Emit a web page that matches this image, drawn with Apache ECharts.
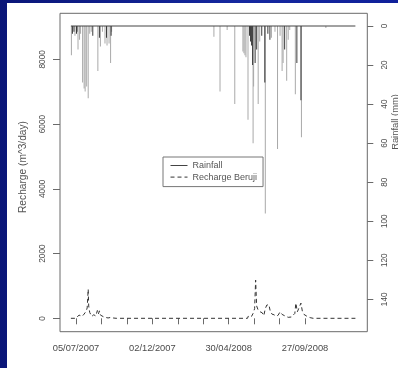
<!DOCTYPE html>
<html>
<head>
<meta charset="utf-8">
<script src="https://cdn.jsdelivr.net/npm/echarts@6/dist/echarts.min.js"></script>
<style>
html,body{margin:0;padding:0;width:398px;height:368px;overflow:hidden;background:linear-gradient(to right,#0a1678,#15289f 60%,#0f209a);}
#paper{position:absolute;left:7px;top:3px;width:391px;height:365px;background:#fff;}
#c{position:absolute;left:0;top:0;width:398px;height:368px;}
</style>
</head>
<body>
<div id="paper"></div>
<div id="c"></div>
<script>
// ---- data ----
const rainLightDates = ['2007-06-26','2007-07-03','2007-07-09','2007-07-12','2007-07-14','2007-07-18','2007-07-21','2007-07-23','2007-07-26','2007-07-29','2007-08-01','2007-08-04','2007-08-17','2007-08-22','2007-08-26','2007-08-31','2007-09-04','2007-09-08','2007-09-11','2007-09-13','2008-04-01','2008-04-13','2008-04-27','2008-05-12','2008-05-28','2008-05-30','2008-06-01','2008-06-03','2008-06-07','2008-06-17','2008-06-18','2008-06-27','2008-06-30','2008-07-11','2008-07-23','2008-07-30','2008-08-04','2008-08-09','2008-08-13','2008-08-15','2008-08-22','2008-08-25','2008-08-28','2008-09-08','2008-09-20','2008-11-07'];
const rainLightMm = [15,5,12,7,4,29,32,33.5,31,37,4,3,23,10.5,3,9,10,9,19,3,5.5,33.5,2,40,13,14,15,16,48,60,31,40,8,96,6,3,63,5,23,19,28,7,2,35,57,1];
const rainDarkDates = ['2007-06-28','2007-07-01','2007-07-06','2007-07-07','2007-08-07','2007-08-20','2007-09-03','2007-09-12','2008-06-10','2008-06-12','2008-06-14','2008-06-16','2008-06-21','2008-06-24','2008-07-04','2008-07-10','2008-07-16','2008-07-20','2008-08-18','2008-09-11','2008-09-19'];
const rainDarkMm = [4,3,4,3,5,6,6,5,5,8,10,20,19,12,5,29,4,7,12,19,38];
const rainBaseDates = ['2007-06-25','2009-01-04'];
const rainBaseMm = [0,0];
const rechargeDates = ['2007-06-25','2007-07-05','2007-07-07','2007-07-11','2007-07-14','2007-07-17','2007-07-21','2007-07-25','2007-07-27','2007-07-29','2007-07-30','2007-08-01','2007-08-03','2007-08-05','2007-08-09','2007-08-13','2007-08-16','2007-08-18','2007-08-20','2007-08-22','2007-08-25','2007-08-29','2007-09-02','2007-09-06','2007-09-12','2007-09-16','2007-09-22','2008-06-06','2008-06-08','2008-06-11','2008-06-14','2008-06-17','2008-06-20','2008-06-22','2008-06-24','2008-06-27','2008-07-01','2008-07-05','2008-07-08','2008-07-11','2008-07-14','2008-07-18','2008-07-21','2008-07-24','2008-07-28','2008-08-01','2008-08-05','2008-08-09','2008-08-13','2008-08-19','2008-08-25','2008-08-31','2008-09-03','2008-09-07','2008-09-09','2008-09-12','2008-09-15','2008-09-19','2008-09-22','2008-09-25','2008-10-01','2008-10-07','2008-10-13','2009-01-04'];
const rechargeVals = [0,0,40,100,150,60,130,220,320,900,380,180,120,60,110,70,240,130,230,100,70,40,25,10,30,10,0,0,80,120,60,150,300,1180,380,250,200,170,80,300,410,420,200,130,110,70,90,200,120,70,30,40,30,150,470,200,250,470,200,120,60,20,0,0];
const xTickDates = ['2007-07-05','2007-08-24','2007-10-13','2007-12-02','2008-01-21','2008-03-11','2008-04-30','2008-06-19','2008-08-08','2008-09-27'];
const xLabelDates = ['2007-07-05','2007-12-02','2008-04-30','2008-09-27'];
const yLeftTicks = [0,2000,4000,6000,8000];
const yRightTicks = [0,20,40,60,80,100,120,140];

// ---- helpers ----
function ts(s){const p=s.split('-').map(Number);return new Date(p[0],p[1]-1,p[2]).getTime();}
function pairs(d,v){return d.map((x,i)=>[ts(x),v[i]]);}
function fmt(t){const d=new Date(t);const z=n=>(n<10?'0':'')+n;return z(d.getDate())+'/'+z(d.getMonth()+1)+'/'+d.getFullYear();}
const DAY=86400000;
const base=ts('2007-07-05');
const FONT='Liberation Sans, Arial, sans-serif';

const chart=echarts.init(document.getElementById('c'),null,{renderer:'canvas'});
chart.setOption({
  animation:false,
  backgroundColor:'transparent',
  grid:{left:60,top:13.3,right:30.7,bottom:36.3,show:true,borderColor:'#6a6a6a',borderWidth:1,backgroundColor:'transparent'},
  legend:{
    orient:'vertical',left:163,top:157,
    padding:[4,6,5,7],itemGap:2.6,itemWidth:17,itemHeight:10,
    backgroundColor:'#fff',borderColor:'#777',borderWidth:1,borderRadius:0,
    itemStyle:{color:'rgba(0,0,0,0)',borderWidth:0,opacity:0},
    lineStyle:{width:1},
    textStyle:{fontSize:9,color:'#555',fontFamily:FONT},
    data:['Rainfall','Recharge Beruji']
  },
  xAxis:{
    type:'value',
    min:base-31.4*DAY,max:base+572.4*DAY,
    axisLine:{show:false},splitLine:{show:false},
    axisTick:{show:true,length:6,inside:false,lineStyle:{color:'#6a6a6a'},customValues:xTickDates.map(ts)},
    axisLabel:{customValues:xLabelDates.map(ts),formatter:v=>fmt(v),fontSize:9.3,color:'#4a4a4a',fontFamily:FONT,margin:12}
  },
  yAxis:[
    {type:'value',min:-414,max:9421,position:'left',
     axisLine:{show:false},splitLine:{show:false},
     axisTick:{show:true,length:7,lineStyle:{color:'#6a6a6a'},customValues:yLeftTicks},
     axisLabel:{customValues:yLeftTicks,formatter:v=>String(v),rotate:90,fontSize:8.4,color:'#4a4a4a',fontFamily:FONT,margin:13.5}},
    {type:'value',min:-6.51,max:156.6,inverse:true,position:'right',
     axisLine:{show:false},splitLine:{show:false},
     axisTick:{show:true,length:6,lineStyle:{color:'#6a6a6a'},customValues:yRightTicks},
     axisLabel:{customValues:yRightTicks,formatter:v=>String(v),rotate:90,fontSize:8.2,color:'#4a4a4a',fontFamily:FONT,margin:13.5}}
  ],
  graphic:[
    {type:'text',x:23.3,y:167,rotation:Math.PI/2,style:{text:'Recharge (m^3/day)',fontSize:10.2,fill:'#555',fontFamily:FONT,align:'center',verticalAlign:'middle'}},
    {type:'text',x:395,y:122,rotation:Math.PI/2,style:{text:'Rainfall (mm)',fontSize:9.4,fill:'#555',fontFamily:FONT,align:'center',verticalAlign:'middle'}}
  ],
  series:[
    {name:'RainLight',type:'bar',xAxisIndex:0,yAxisIndex:1,barWidth:1,barGap:'-100%',
     itemStyle:{color:'#a9a9a9'},data:pairs(rainLightDates,rainLightMm),z:2},
    {name:'RainDark',type:'bar',xAxisIndex:0,yAxisIndex:1,barWidth:1,barGap:'-100%',
     itemStyle:{color:'#3a3a3a'},data:pairs(rainDarkDates,rainDarkMm),z:3},
    {name:'Rainfall',type:'line',xAxisIndex:0,yAxisIndex:1,symbol:'none',
     lineStyle:{color:'#444',width:1},itemStyle:{color:'#444'},data:pairs(rainBaseDates,rainBaseMm),z:4},
    {name:'Recharge Beruji',type:'line',xAxisIndex:0,yAxisIndex:0,symbol:'none',
     lineStyle:{color:'#333',width:1,type:[4,3]},itemStyle:{color:'#333'},data:pairs(rechargeDates,rechargeVals),z:5}
  ]
});
</script>
</body>
</html>
